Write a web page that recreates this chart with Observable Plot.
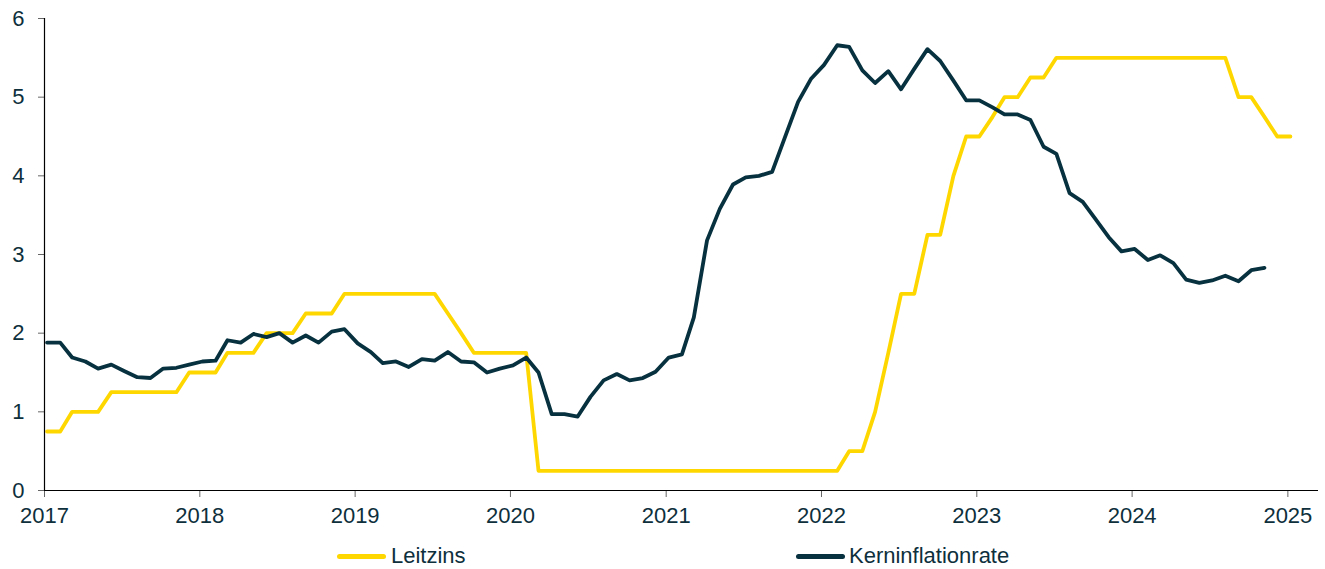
<!DOCTYPE html>
<html>
<head>
<meta charset="utf-8">
<script src="https://cdn.jsdelivr.net/npm/d3@7"></script>
<script src="https://cdn.jsdelivr.net/npm/@observablehq/plot@0.6"></script>
<style>
  html, body { margin: 0; padding: 0; background: #fff; }
  body { font-family: "Liberation Sans", Arial, sans-serif; color: #0e2f3c; }
  #wrap { position: relative; width: 1325px; height: 569px; }
  #legend { position: relative; width: 1325px; height: 37px; }
  .sw { position: absolute; height: 5px; border-radius: 3px; }
  .lt { position: absolute; font-size: 22px; line-height: 22px; color: #0e2f3c; }
</style>
</head>
<body>
<div id="wrap">
  <div id="chart"></div>
  <div id="legend"></div>
</div>
<script>
// Series names and colours
const seriesNames = ["Leitzins", "Kerninflationrate"];
const seriesColors = ["#FFD700", "#07313F"];

// Monthly values starting January 2017
const startYear = 2017;
const leitzins = [
  0.75, 0.75, 1.00, 1.00, 1.00, 1.25, 1.25, 1.25, 1.25, 1.25, 1.25, 1.50, // 2017
  1.50, 1.50, 1.75, 1.75, 1.75, 2.00, 2.00, 2.00, 2.25, 2.25, 2.25, 2.50, // 2018
  2.50, 2.50, 2.50, 2.50, 2.50, 2.50, 2.50, 2.25, 2.00, 1.75, 1.75, 1.75, // 2019
  1.75, 1.75, 0.25, 0.25, 0.25, 0.25, 0.25, 0.25, 0.25, 0.25, 0.25, 0.25, // 2020
  0.25, 0.25, 0.25, 0.25, 0.25, 0.25, 0.25, 0.25, 0.25, 0.25, 0.25, 0.25, // 2021
  0.25, 0.25, 0.50, 0.50, 1.00, 1.75, 2.50, 2.50, 3.25, 3.25, 4.00, 4.50, // 2022
  4.50, 4.75, 5.00, 5.00, 5.25, 5.25, 5.50, 5.50, 5.50, 5.50, 5.50, 5.50, // 2023
  5.50, 5.50, 5.50, 5.50, 5.50, 5.50, 5.50, 5.50, 5.00, 5.00, 4.75, 4.50, // 2024
  4.50                                                                    // 2025
];
const kerninflation = [
  1.88, 1.88, 1.69, 1.64, 1.55, 1.60, 1.52, 1.44, 1.43, 1.55, 1.56, 1.60, // 2017
  1.64, 1.65, 1.91, 1.88, 1.99, 1.95, 2.00, 1.88, 1.97, 1.88, 2.02, 2.05, // 2018
  1.87, 1.76, 1.62, 1.64, 1.57, 1.67, 1.65, 1.76, 1.64, 1.63, 1.50, 1.55, // 2019
  1.59, 1.69, 1.50, 0.97, 0.97, 0.94, 1.19, 1.40, 1.48, 1.40, 1.43, 1.51, // 2020
  1.69, 1.73, 2.20, 3.18, 3.58, 3.89, 3.98, 4.00, 4.05, 4.49, 4.94, 5.23, // 2021
  5.41, 5.66, 5.64, 5.34, 5.18, 5.33, 5.10, 5.36, 5.61, 5.46, 5.21, 4.96, // 2022
  4.96, 4.87, 4.78, 4.78, 4.71, 4.37, 4.28, 3.78, 3.67, 3.45, 3.22, 3.04, // 2023
  3.07, 2.93, 2.99, 2.89, 2.68, 2.64, 2.67, 2.73, 2.66, 2.80, 2.83        // 2024
];
const yearTicks = [2017, 2018, 2019, 2020, 2021, 2022, 2023, 2024, 2025];
const yTicks = [0, 1, 2, 3, 4, 5, 6];

const monthDate = i => new Date(Date.UTC(startYear, i, 7));
const rows = [];
leitzins.forEach((v, i) => rows.push({date: monthDate(i), value: v, series: seriesNames[0]}));
kerninflation.forEach((v, i) => rows.push({date: monthDate(i), value: v, series: seriesNames[1]}));

const xStart = new Date(Date.UTC(2017, 0, 1));
const xEnd = new Date(Date.UTC(2025, 2, 14));
const textColor = "#0e2f3c";

const chart = Plot.plot({
  width: 1325,
  height: 532,
  marginTop: 18,
  marginBottom: 42,
  marginLeft: 44,
  marginRight: 7,
  style: {fontFamily: "'Liberation Sans', Arial, sans-serif", background: "#fff"},
  x: {type: "utc", domain: [xStart, xEnd]},
  y: {domain: [0, 6]},
  color: {domain: seriesNames, range: seriesColors},
  marks: [
    Plot.axisY({
      ticks: yTicks, tickSize: 6, tickPadding: 14, fontSize: 22,
      stroke: "#666", fill: textColor, label: null, tickFormat: d => String(d)
    }),
    Plot.axisX({
      ticks: yearTicks.map(y => new Date(Date.UTC(y, 0, 1))),
      tickSize: 7, tickPadding: 10, fontSize: 22,
      stroke: "#666", fill: textColor, label: null,
      tickFormat: d => String(d.getUTCFullYear())
    }),
    Plot.line(rows.filter(d => d.series === seriesNames[0]), {
      x: "date", y: "value", stroke: "series", strokeWidth: 3.8,
      strokeLinejoin: "round", strokeLinecap: "round"
    }),
    Plot.line(rows.filter(d => d.series === seriesNames[1]), {
      x: "date", y: "value", stroke: "series", strokeWidth: 3.8,
      strokeLinejoin: "round", strokeLinecap: "round"
    }),
    Plot.ruleX([xStart], {stroke: "#000", strokeWidth: 1.2}),
    Plot.ruleY([0], {stroke: "#000", strokeWidth: 1.2})
  ]
});
document.getElementById("chart").appendChild(chart);

// Legend below the SVG
const legend = document.getElementById("legend");
const legendItems = [
  {name: seriesNames[0], color: seriesColors[0], swatchLeft: 337, textLeft: 391},
  {name: seriesNames[1], color: seriesColors[1], swatchLeft: 796, textLeft: 849}
];
legendItems.forEach(it => {
  const sw = document.createElement("div");
  sw.className = "sw";
  sw.style.left = it.swatchLeft + "px";
  sw.style.width = "49px";
  sw.style.top = "22px";
  sw.style.background = it.color;
  legend.appendChild(sw);
  const t = document.createElement("div");
  t.className = "lt";
  t.style.left = it.textLeft + "px";
  t.style.top = "13px";
  t.textContent = it.name;
  legend.appendChild(t);
});
</script>
</body>
</html>
